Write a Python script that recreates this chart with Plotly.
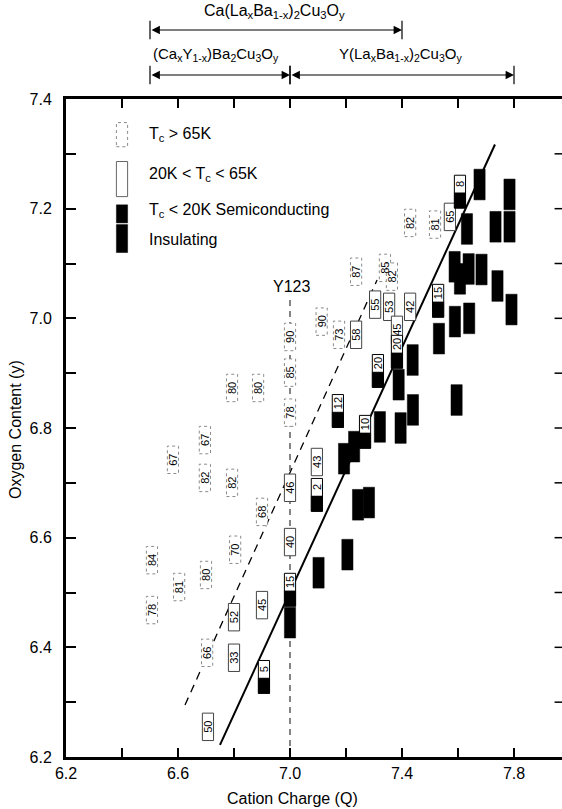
import plotly.graph_objects as go

# ---------------- data ----------------
# open boxes: labelled by Tc (K)
open_q = [6.507, 6.507, 6.604, 6.700, 6.582, 6.696, 6.696, 6.793, 6.793, 6.886,
          6.900, 6.804, 6.704, 6.800, 6.900, 6.800, 6.707, 7.000, 7.000, 7.000,
          7.000, 7.000, 7.096, 7.113, 7.236, 7.175, 7.236, 7.304, 7.354, 7.429,
          7.339, 7.364, 7.382, 7.429, 7.518, 7.571]
open_y = [6.559, 6.468, 6.510, 6.532, 6.742, 6.709, 6.778, 6.700, 6.873, 6.873,
          6.647, 6.578, 6.390, 6.455, 6.477, 6.381, 6.255, 6.966, 6.901, 6.828,
          6.691, 6.592, 6.738, 6.994, 7.085, 6.970, 6.970, 7.025, 7.021, 7.021,
          7.092, 7.076, 6.979, 7.174, 7.171, 7.185]
open_tc = [84, 78, 81, 80, 67, 82, 67, 82, 80, 80,
           68, 70, 66, 52, 45, 33, 50, 90, 85, 78,
           46, 40, 43, 90, 87, 73, 58, 55, 53, 42,
           85, 82, 45, 82, 81, 65]

# semiconducting (Tc < 20 K)
semi_q = [7.000, 6.907, 7.096, 7.171, 7.268, 7.314, 7.382, 7.529, 7.607]
semi_y = [6.505, 6.346, 6.678, 6.831, 6.793, 6.904, 6.939, 7.032, 7.231]
semi_tc = [15, 5, 2, 12, 10, 20, 20, 15, 8]

# insulating
ins_q = [7.000, 7.102, 7.205, 7.243, 7.282, 7.193, 7.229, 7.321, 7.395, 7.439,
         7.388, 7.438, 7.532, 7.589, 7.640, 7.595, 7.588, 7.607, 7.638, 7.684,
         7.741, 7.791, 7.632, 7.734, 7.784, 7.784, 7.677]
ins_y = [6.445, 6.536, 6.569, 6.660, 6.664, 6.744, 6.766, 6.802, 6.800, 6.833,
         6.879, 6.924, 6.963, 6.994, 7.000, 6.851, 7.094, 7.072, 7.090, 7.089,
         7.059, 7.016, 7.163, 7.167, 7.226, 7.167, 7.244]

# trend lines
fit_solid_q = [6.750, 7.732]
fit_solid_y = [6.222, 7.317]
fit_dash_q = [6.625, 7.311]
fit_dash_y = [6.295, 7.070]
y123_q = [7.0, 7.0]
y123_y = [6.2, 7.034]

# composition ranges (header)
ranges = [
    ("Ca(La<sub>x</sub>Ba<sub>1-x</sub>)<sub>2</sub>Cu<sub>3</sub>O<sub>y</sub>", 6.5, 7.4, 6.943, 0),
    ("(Ca<sub>x</sub>Y<sub>1-x</sub>)Ba<sub>2</sub>Cu<sub>3</sub>O<sub>y</sub>", 6.5, 7.0, 6.735, 1),
    ("Y(La<sub>x</sub>Ba<sub>1-x</sub>)<sub>2</sub>Cu<sub>3</sub>O<sub>y</sub>", 7.0, 7.8, 7.393, 1),
]

x_ticks = [6.2, 6.6, 7.0, 7.4, 7.8]
y_ticks = [6.2, 6.4, 6.6, 6.8, 7.0, 7.2, 7.4]
y_minor_right = [6.3, 6.4, 6.5, 6.6, 6.7, 6.8, 6.9, 7.0, 7.1, 7.2, 7.3]

# ---------------- figure ----------------
FONT = "Liberation Sans, Arial, Helvetica, sans-serif"
HW = 0.02
OPEN_H = 0.05
SEMI_H = 0.06
INS_H = 0.056

fig = go.Figure()
fig.add_trace(go.Scatter(x=fit_solid_q, y=fit_solid_y, mode="lines",
                         line=dict(color="black", width=2), hoverinfo="skip"))
fig.add_trace(go.Scatter(x=fit_dash_q, y=fit_dash_y, mode="lines",
                         line=dict(color="black", width=1.3, dash="8px,6px"), hoverinfo="skip"))
fig.add_trace(go.Scatter(x=y123_q, y=y123_y, mode="lines",
                         line=dict(color="#333", width=1.2, dash="6px,5px"), hoverinfo="skip"))

shapes = []
annotations = []


def rect(q, y0, y1, fill, line_color, line_width, dash="solid"):
    shapes.append(dict(type="rect", xref="x", yref="y", x0=q - HW, x1=q + HW, y0=y0, y1=y1,
                       fillcolor=fill, line=dict(color=line_color, width=line_width, dash=dash)))


def label(q, y, t):
    annotations.append(dict(x=q, y=y, xref="x", yref="y", text=str(t), showarrow=False,
                            textangle=-90, font=dict(size=11, family=FONT, color="black")))


for q, y, t in zip(open_q, open_y, open_tc):
    if t > 65:
        rect(q, y - OPEN_H / 2, y + OPEN_H / 2, "white", "#8a8a8a", 1, "dot")
    else:
        rect(q, y - OPEN_H / 2, y + OPEN_H / 2, "white", "#444", 1)
    label(q, y, t)

for q, y, t in zip(semi_q, semi_y, semi_tc):
    rect(q, y - SEMI_H / 2, y + SEMI_H / 2, "white", "black", 1)
    rect(q, y - SEMI_H / 2, y - 0.002, "black", "black", 0.5)
    label(q, y + 0.014, t)

for q, y in zip(ins_q, ins_y):
    rect(q, y - INS_H / 2, y + INS_H / 2, "black", "black", 0.5)

# Y123 label
annotations.append(dict(x=7.007, y=7.058, xref="x", yref="y", text="Y123", showarrow=False,
                        font=dict(size=16, family=FONT, color="black")))

# legend (custom)
LEG_Q = 6.40
legend_rows = [
    ("T<sub>c</sub> > 65K", 7.335),
    ("20K < T<sub>c</sub> < 65K", 7.262),
    ("T<sub>c</sub> < 20K Semiconducting", 7.196),
    ("Insulating", 7.143),
]
rect(LEG_Q, 7.313, 7.357, "white", "#8a8a8a", 1, "dot")
rect(LEG_Q, 7.222, 7.286, "white", "#666", 1)
rect(LEG_Q, 7.174, 7.207, "black", "black", 0.5)
rect(LEG_Q, 7.120, 7.171, "black", "black", 0.5)
for txt, yy in legend_rows:
    annotations.append(dict(x=6.49, y=yy, xref="x", yref="y", text=txt, showarrow=False,
                            xanchor="left", font=dict(size=16, family=FONT, color="black")))

# header composition ranges
TOP_PX = 99
PLOT_H = 658
def paper_y(px):
    return 1 + (TOP_PX - px) / PLOT_H

row_text_px = [12, 55]
row_arrow_px = [30, 75]
row_font = [16, 15]
for txt, q0, q1, qc, row in ranges:
    ya = paper_y(row_arrow_px[row])
    annotations.append(dict(x=qc, y=paper_y(row_text_px[row]), xref="x", yref="paper",
                            xanchor="center", yanchor="middle",
                            text=txt, showarrow=False,
                            font=dict(size=row_font[row], family=FONT, color="black")))
    annotations.append(dict(x=q1, y=ya, xref="x", yref="paper", ax=q0, ay=0,
                            axref="x", ayref="pixel", text="", showarrow=True,
                            arrowhead=2, startarrowhead=2, arrowside="end+start",
                            arrowsize=1.4, arrowwidth=1.2, arrowcolor="black"))
    for qq in (q0, q1):
        shapes.append(dict(type="line", xref="x", yref="paper", x0=qq, x1=qq,
                           y0=ya - 0.014, y1=ya + 0.014, line=dict(color="black", width=1.2)))

# right-hand inward ticks (the right axis line itself lies outside the picture)
for yv in y_minor_right:
    shapes.append(dict(type="line", xref="paper", yref="y", x0=0.985, x1=1.0, y0=yv, y1=yv,
                       line=dict(color="black", width=1.5)))

# axis titles
annotations.append(dict(x=(292 - 66) / 496, y=(757 - 798) / PLOT_H, xref="paper", yref="paper",
                        xanchor="center", yanchor="middle",
                        text="Cation Charge (Q)", showarrow=False,
                        font=dict(size=16, family=FONT, color="black")))
annotations.append(dict(x=(15 - 66) / 496, y=(757 - 430) / PLOT_H, xref="paper", yref="paper",
                        xanchor="center", yanchor="middle",
                        text="Oxygen Content (y)", showarrow=False, textangle=-90,
                        font=dict(size=16, family=FONT, color="black")))

fig.update_layout(
    width=562, height=809,
    margin=dict(l=66, r=0, t=99, b=52),
    paper_bgcolor="white", plot_bgcolor="white",
    showlegend=False,
    font=dict(family=FONT, size=16, color="black"),
    shapes=shapes, annotations=annotations,
)
fig.update_xaxes(
    range=[6.2, 6.2 + 496 / 280], tickvals=x_ticks, tickformat=".1f",
    ticks="inside", ticklen=9, tickwidth=1.5, tickcolor="black",
    showline=True, linewidth=3, linecolor="black", mirror="ticks",
    showgrid=False, zeroline=False,
    minor=dict(dtick=0.2, tick0=6.2, ticks="inside", ticklen=9, tickwidth=1.5,
               tickcolor="black", showgrid=False),
    tickfont=dict(size=16, family=FONT, color="black"),
)
fig.update_yaxes(
    range=[6.2, 7.4], tickvals=y_ticks, tickformat=".1f",
    ticks="inside", ticklen=10, tickwidth=1.5, tickcolor="black",
    showline=True, linewidth=3, linecolor="black", mirror=False,
    showgrid=False, zeroline=False, ticklabelstandoff=8,
    minor=dict(dtick=0.1, tick0=6.2, ticks="inside", ticklen=10, tickwidth=1.5,
               tickcolor="black", showgrid=False),
    tickfont=dict(size=16, family=FONT, color="black"),
)

fig.write_html("out.html")
